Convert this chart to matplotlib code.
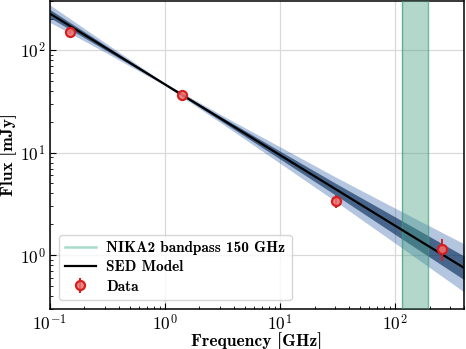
import numpy as np
import matplotlib
matplotlib.use("Agg")
import matplotlib.pyplot as plt
from matplotlib.lines import Line2D

plt.rcParams['font.family'] = 'serif'
plt.rcParams['font.serif'] = ['cmr10']
plt.rcParams['mathtext.fontset'] = 'cm'
plt.rcParams['axes.unicode_minus'] = False
plt.rcParams['axes.formatter.use_mathtext'] = True

# data points
freq = [0.15, 1.4, 31.0, 256.0]
flux = [150.0, 36.8, 3.34, 1.14]
flux_lo = [8.0, 1.5, 0.45, 0.26]
flux_hi = [8.0, 1.5, 0.55, 0.30]

# SED model + posterior bands
model_freq = [0.1, 0.316, 1.0, 3.16, 10.0, 31.6, 100.0, 400.0]
model_flux = [226.5, 102.6, 46.3, 21.0, 9.48, 4.30, 1.945, 0.752]
outer_lo = [186.2, 92.5, 45.1, 19.1, 7.89, 3.26, 1.315, 0.438]
outer_hi = [275.4, 113.8, 47.6, 23.0, 11.40, 5.66, 2.88, 1.29]
inner_lo = [206.5, 97.5, 45.7, 20.0, 8.69, 3.76, 1.60, 0.577]
inner_hi = [248.3, 107.9, 47.0, 22.0, 10.35, 4.91, 2.37, 0.98]

# NIKA2 150 GHz band edges
band_lo, band_hi = 115.0, 195.0

fig = plt.figure(figsize=(4.66, 3.49), dpi=100)
ax = fig.add_axes([0.107, 0.115, 0.889, 0.882])

ax.fill_between(model_freq, outer_lo, outer_hi, color='#18519f', alpha=0.33, lw=0, zorder=2)
ax.fill_between(model_freq, inner_lo, inner_hi, color='#002554', alpha=0.6, lw=0, zorder=2)
ax.axvspan(band_lo, band_hi, facecolor='#419d7f', alpha=0.4, edgecolor='none', zorder=3)
ax.axvline(band_lo, color='#3c9a78', lw=1.0, alpha=0.7, zorder=3)
ax.axvline(band_hi, color='#3c9a78', lw=1.0, alpha=0.7, zorder=3)
ax.plot(model_freq, model_flux, color='black', lw=1.6, zorder=4)

ax.errorbar(freq, flux, yerr=[flux_lo, flux_hi], fmt='o', color='#d62020',
            mfc=(0.92, 0.45, 0.45, 0.85), mec='#d62020', mew=1.6, ms=6.5,
            elinewidth=1.4, capsize=0, zorder=5)

ax.set_xscale('log')
ax.set_yscale('log')
ax.set_xlim(0.1, 400)
ax.set_ylim(0.3, 300)
ax.grid(True, which='major', color='#d9d9d9', lw=0.9, zorder=0)
ax.set_axisbelow(True)
ax.tick_params(which='both', direction='in', labelsize=12.5, pad=3)
ax.tick_params(which='major', length=4)
ax.tick_params(which='minor', length=2)
for sp in ax.spines.values():
    sp.set_linewidth(1.1)

ax.set_xlabel('Frequency [GHz]', fontfamily='cmb10', fontsize=12.5)
ax.set_ylabel('Flux [mJy]', fontfamily='cmb10', fontsize=12.5)
ax.xaxis.set_label_coords(0.5, -0.075)
ax.yaxis.set_label_coords(-0.08, 0.5)

handles = [Line2D([], [], color='#a8dcc8', lw=1.8),
           Line2D([], [], color='black', lw=1.6),
           ax.errorbar([], [], yerr=[], fmt='o', color='#d62020',
                       mfc=(0.92, 0.45, 0.45, 0.85), mec='#d62020', mew=1.6, ms=6.5)]
labels = ['NIKA2 bandpass 150 GHz', 'SED Model', 'Data']
leg = ax.legend(handles, labels, loc='lower left', prop={'family': 'cmb10', 'size': 11},
                framealpha=0.8, borderaxespad=0.6, labelspacing=0.35, handletextpad=0.7)

fig.savefig('out.png', dpi=100)
